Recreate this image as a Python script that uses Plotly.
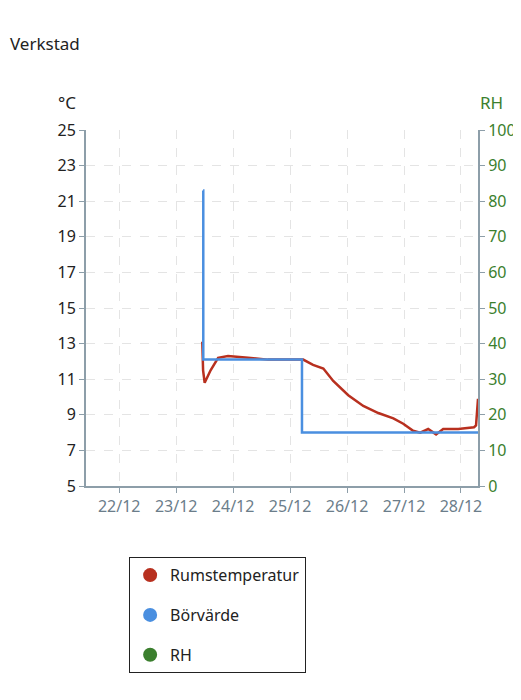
import plotly.graph_objects as go

red_t = ["2023-12-23 11:00", "2023-12-23 11:20", "2023-12-23 12:00", "2023-12-23 14:30",
         "2023-12-23 17:40", "2023-12-23 21:50", "2023-12-24 06:20", "2023-12-24 14:40",
         "2023-12-24 23:10", "2023-12-25 05:30", "2023-12-25 09:40", "2023-12-25 14:00",
         "2023-12-25 18:10", "2023-12-26 00:30", "2023-12-26 06:50", "2023-12-26 13:10",
         "2023-12-26 19:30", "2023-12-26 23:40", "2023-12-27 03:50", "2023-12-27 06:50",
         "2023-12-27 10:10", "2023-12-27 13:30", "2023-12-27 16:30", "2023-12-27 22:50",
         "2023-12-28 05:30", "2023-12-28 06:20", "2023-12-28 07:10"]
red_v = [13.1, 11.5, 10.8, 11.5, 12.2, 12.3, 12.2, 12.1, 12.1, 12.1, 11.8, 11.6, 10.9,
         10.1, 9.5, 9.1, 8.8, 8.5, 8.1, 8.0, 8.2, 7.9, 8.2, 8.2, 8.3, 8.4, 9.9]

set_t = ["2023-12-23 11:20", "2023-12-23 11:25", "2023-12-25 05:00", "2023-12-28 07:10"]
set_v = [21.6, 12.1, 8.0, 8.0]

ticks = ["2023-12-22", "2023-12-23", "2023-12-24", "2023-12-25", "2023-12-26", "2023-12-27", "2023-12-28"]
tick_text = ["22/12", "23/12", "24/12", "25/12", "26/12", "27/12", "28/12"]

RED, BLUE, GREEN, AX = "#b8301f", "#4a8fe0", "#3b7f2e", "#8d9ea9"

fig = go.Figure()
fig.add_trace(go.Scatter(x=red_t, y=red_v, mode="lines", line=dict(color=RED, width=2.5), showlegend=False))
fig.add_trace(go.Scatter(x=set_t, y=set_v, mode="lines", line=dict(color=BLUE, width=2.5, shape="hv"), showlegend=False))
for name, c in [("Rumstemperatur", RED), ("Börvärde", BLUE), ("RH", GREEN)]:
    fig.add_trace(go.Scatter(x=[None], y=[None], mode="markers", name=name, legendgroup=name,
                             marker=dict(color=c, size=14), yaxis="y2"))

fig.update_layout(
    width=521, height=700, plot_bgcolor="white", paper_bgcolor="white",
    margin=dict(l=78, r=51, t=122, b=222),
    font=dict(family="Noto Sans", size=16, color="#222"),
    xaxis=dict(range=["2023-12-21 10:00", "2023-12-28 07:10"], tickvals=ticks, ticktext=tick_text,
               showgrid=True, gridcolor="#e4e4e4", griddash="dash", tickfont=dict(color="#6b7d8a"),
               showline=True, linecolor=AX, linewidth=2, ticks="outside", tickcolor=AX,
               zeroline=False, automargin=False),
    yaxis=dict(range=[5, 25], tick0=5, dtick=2, showgrid=True, gridcolor="#e4e4e4", griddash="dash",
               showline=True, linecolor=AX, linewidth=2, ticks="outside", tickcolor=AX,
               zeroline=False, automargin=False),
    yaxis2=dict(range=[0, 100], dtick=10, overlaying="y", side="right", showgrid=False,
                tickfont=dict(color=GREEN), showline=True, linecolor=AX, linewidth=2,
                ticks="outside", tickcolor=AX, zeroline=False, automargin=False),
    legend=dict(x=0.11, y=-0.2, xanchor="left", yanchor="top", bordercolor="#222", borderwidth=1,
                font=dict(size=16), tracegroupgap=16, itemwidth=30),
    annotations=[
        dict(text="Verkstad", x=-78 / 392, y=1 + (122 - 35) / 356, xref="paper", yref="paper",
             xanchor="left", yanchor="middle", showarrow=False, font=dict(size=17)),
        dict(text="°C", x=-0.02, y=1.04, xref="paper", yref="paper", xanchor="right", yanchor="bottom",
             showarrow=False, font=dict(size=17)),
        dict(text="RH", x=1.0, y=1.04, xref="paper", yref="paper", xanchor="left", yanchor="bottom",
             showarrow=False, font=dict(size=17, color=GREEN)),
    ],
)
fig.write_html("out.html")
